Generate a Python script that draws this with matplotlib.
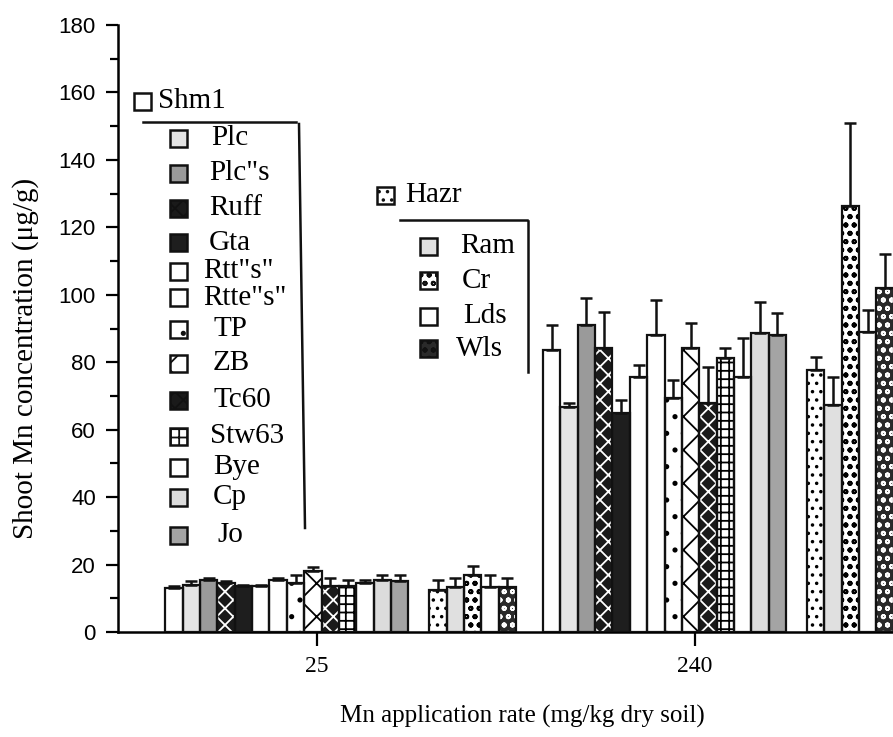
import matplotlib.pyplot as plt
from matplotlib.patches import Rectangle
from matplotlib.lines import Line2D

plt.rcParams['hatch.linewidth'] = 1.3

rates = ['25', '240']

shm_names = ['Shm1', 'Plc', 'Plc"s', 'Ruff', 'Gta', 'Rtt"s"', 'Rtte"s"',
             'TP', 'ZB', 'Tc60', 'Stw63', 'Bye', 'Cp', 'Jo']
haz_names = ['Hazr', 'Ram', 'Cr', 'Lds', 'Wls']

# mean shoot Mn (ug/g) and standard error, one list per rate
shm_25 = [13, 14, 15.3, 14.5, 13.5, 13.5, 15.5, 14.5, 18, 13.5, 13.5, 14.5, 15.5, 15]
shm_25_se = [0.5, 1, 0.8, 0.5, 0.3, 0.5, 0.6, 2.5, 1.4, 2.5, 2, 1, 1.5, 2]
haz_25 = [12.4, 13.3, 17, 13.3, 13.3]
haz_25_se = [2.9, 2.7, 2.7, 3.5, 2.7]

shm_240 = [83.6, 66.7, 91, 84.2, 65, 75.6, 88, 69.4, 84.2, 68, 81.3, 75.6, 88.7, 88]
shm_240_se = [7.4, 1.2, 8, 10.8, 3.8, 3.6, 10.5, 5.3, 7.4, 10.6, 2.9, 11.6, 9.3, 6.6]
haz_240 = [77.7, 67.3, 126.3, 89, 102]
haz_240_se = [3.9, 8.3, 24.7, 6.5, 10]

# fill, hatch, hatch colour for every variety
style = {
    'Shm1': ('white', '', 'black'),
    'Plc': ('#e4e4e4', '', 'black'),
    'Plc"s': ('#9a9a9a', '', 'black'),
    'Ruff': ('#1a1a1a', 'xx', 'white'),
    'Gta': ('#1e1e1e', '', 'black'),
    'Rtt"s"': ('white', '', 'black'),
    'Rtte"s"': ('white', '', 'black'),
    'TP': ('white', '.', 'black'),
    'ZB': ('white', 'x', 'black'),
    'Tc60': ('#1a1a1a', 'xx', 'white'),
    'Stw63': ('white', '++', 'black'),
    'Bye': ('white', '', 'black'),
    'Cp': ('#dcdcdc', '', 'black'),
    'Jo': ('#a4a4a4', '', 'black'),
    'Hazr': ('white', '..', 'black'),
    'Ram': ('#e0e0e0', '', 'black'),
    'Cr': ('white', 'oo', 'black'),
    'Lds': ('white', '', 'black'),
    'Wls': ('#2a2a2a', 'oo', 'white'),
}

W, H = 893, 737
fig = plt.figure(figsize=(W / 100, H / 100), dpi=100)
ax = fig.add_axes([118 / W, 1 - 632 / H, 1 - 118 / W, (632 - 25) / H])

group_step = 21.75
haz_offset = 15.2


def draw_bars(x0, names, vals, errs):
    for i, (n, v, e) in enumerate(zip(names, vals, errs)):
        fc, hatch, hc = style[n]
        x = x0 + i + 0.5
        ax.bar(x, v, width=1, color=fc, edgecolor=hc, hatch=hatch, linewidth=0, zorder=2)
        ax.bar(x, v, width=1, fill=False, edgecolor='#111111', linewidth=1.6, zorder=3)
        ax.errorbar(x, v, yerr=[[0], [e]], fmt='none', ecolor='#111111',
                    elinewidth=1.8, capsize=4, capthick=1.8, zorder=4)


data = [(shm_25, shm_25_se, haz_25, haz_25_se),
        (shm_240, shm_240_se, haz_240, haz_240_se)]
for g, (sv, se, hv, he) in enumerate(data):
    start = g * group_step
    draw_bars(start, shm_names, sv, se)
    draw_bars(start + haz_offset, haz_names, hv, he)

ax.set_xlim(-2.72, 41.9)
ax.set_ylim(0, 180)
ax.spines['top'].set_visible(False)
ax.spines['right'].set_visible(False)
ax.spines['left'].set_linewidth(1.8)
ax.spines['bottom'].set_linewidth(1.8)

ax.set_yticks(range(0, 181, 20))
ax.set_yticks(range(10, 180, 20), minor=True)
ax.tick_params(axis='y', which='major', length=9, width=1.6, labelsize=16, pad=7)
ax.tick_params(axis='y', which='minor', length=6, width=1.6)
for lab in ax.get_yticklabels():
    lab.set_family('Liberation Sans')

ax.set_xticks([g * group_step + 8.75 for g in range(len(rates))])
ax.set_xticklabels(rates, family='Liberation Serif', fontsize=17)
ax.tick_params(axis='x', length=10, width=1.6, pad=7)

fig.text(522 / W, 1 - 716 / H, 'Mn application rate (mg/kg dry soil)',
         ha='center', va='center', family='Liberation Serif', fontsize=18)
fig.text(26 / W, 1 - 358 / H, 'Shoot Mn concentration (\u03bcg/g)', rotation=90,
         ha='center', va='center', family='Liberation Serif', fontsize=21)


# hand-made legends
def key(px, py, name, tx, size=21):
    fc, hatch, hc = style[name]
    s = 17
    fig.add_artist(Rectangle((px / W, 1 - (py + s / 2) / H), s / W, s / H,
                             transform=fig.transFigure, facecolor=fc, hatch=hatch,
                             edgecolor='#111111', linewidth=1.8))
    fig.text(tx / W, 1 - py / H, name, ha='left', va='center',
             family='Liberation Serif', fontsize=size)


def fline(xs, ys):
    fig.add_artist(Line2D([x / W for x in xs], [1 - y / H for y in ys],
                          transform=fig.transFigure, color='#111111', linewidth=1.8))


key(134, 101, 'Shm1', 158)
fline([143, 296], [122, 122])
fline([299, 305], [124, 528])
shm_key_y = [138, 173, 208, 243, 271, 298, 329, 363, 400, 436, 467, 497, 535]
shm_key_tx = [211, 209, 209, 209, 203, 203, 213, 213, 213, 210, 213, 213, 217]
for n, y, tx in zip(shm_names[1:], shm_key_y, shm_key_tx):
    key(170, y, n, tx)

key(377, 195, 'Hazr', 405)
fline([400, 527], [220, 220])
fline([528, 528], [221, 372])
haz_key_y = [246, 281, 316, 349]
haz_key_tx = [460, 462, 463, 456]
for n, y, tx in zip(haz_names[1:], haz_key_y, haz_key_tx):
    key(420, y, n, tx)

fig.savefig('out.png', dpi=100)
